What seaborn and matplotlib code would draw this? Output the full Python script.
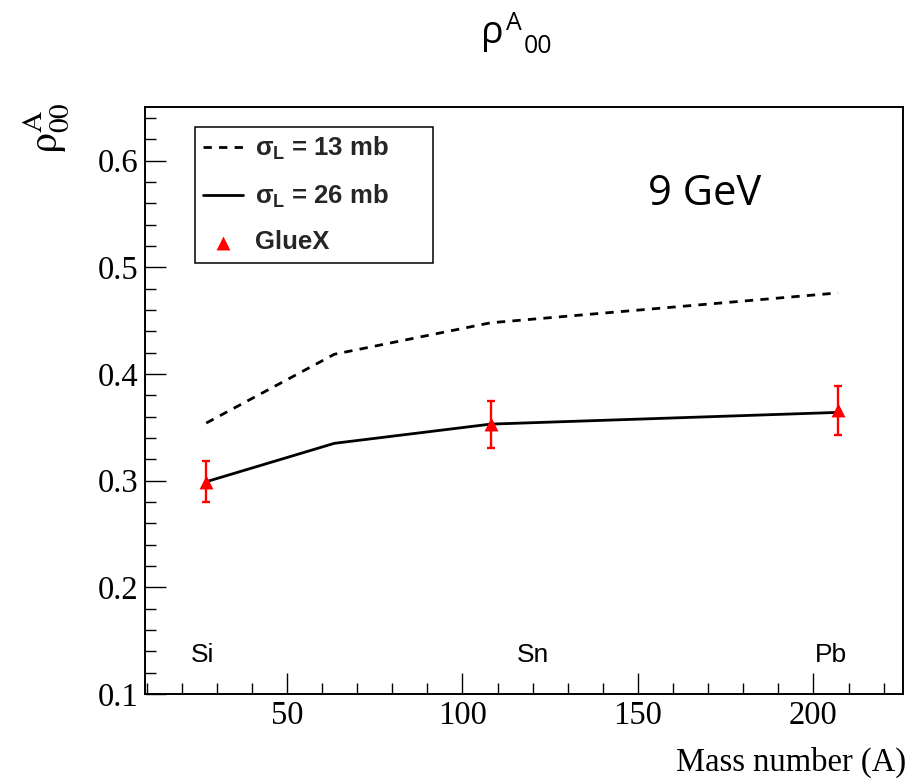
import numpy as np
import pandas as pd
import matplotlib
matplotlib.use('Agg')
import matplotlib.pyplot as plt
import seaborn as sns
from matplotlib.ticker import MultipleLocator

# ---- data ----
mass_model = [27, 63.5, 108, 207]
rho_13mb = [0.354, 0.4185, 0.448, 0.476]
rho_26mb = [0.299, 0.335, 0.353, 0.364]
mass_gluex = [27, 108, 207]
rho_gluex = [0.299, 0.353, 0.366]
err_gluex = [0.019, 0.022, 0.023]
nucleus_labels = ['Si', 'Sn', 'Pb']
nucleus_label_x = [26, 120, 205]
x_ticks = [50, 100, 150, 200]
x_tick_labels = ['50', '100', '150', '200']
y_ticks = [0.1, 0.2, 0.3, 0.4, 0.5, 0.6]
y_tick_labels = ['0.1', '0.2', '0.3', '0.4', '0.5', '0.6']

sns.set_theme(style='white')
plt.rcParams['font.family'] = ['Liberation Sans', 'DejaVu Sans']
plt.rcParams['mathtext.fontset'] = 'custom'
plt.rcParams['mathtext.rm'] = 'Liberation Sans:bold'
plt.rcParams['mathtext.it'] = 'Liberation Sans:bold'
plt.rcParams['mathtext.bf'] = 'Liberation Sans:bold'

fig = plt.figure(figsize=(9.14, 7.8), dpi=100)
ax = fig.add_axes([0.1583, 0.1103, 0.83, 0.7529])

sns.lineplot(x=mass_model, y=rho_13mb, ax=ax, color='black', lw=2.0,
             linestyle=(0, (3.0, 2.6)), label=r'$\sigma_{L}$ = 13 mb')
sns.lineplot(x=mass_model, y=rho_26mb, ax=ax, color='black', lw=2.0,
             label=r'$\sigma_{L}$ = 26 mb')
ax.errorbar(mass_gluex, rho_gluex, yerr=err_gluex, fmt='none', ecolor='red',
            elinewidth=1.7, capsize=2.6, capthick=1.7, zorder=4)
sns.scatterplot(x=mass_gluex, y=rho_gluex, ax=ax, marker='^', s=100, color='red',
                edgecolor='red', linewidth=0, label='GlueX', zorder=5)

ax.set_xlim(9.46, 225.6)
ax.set_ylim(0.1, 0.6506)
ax.set_xticks(x_ticks, labels=x_tick_labels)
ax.set_yticks(y_ticks, labels=y_tick_labels)
ax.xaxis.set_minor_locator(MultipleLocator(10))
ax.yaxis.set_minor_locator(MultipleLocator(0.02))
ax.tick_params(which='both', direction='in', top=False, right=False,
               bottom=True, left=True, color='black', width=1.0,
               labelsize=23.5, labelfontfamily='Liberation Serif', pad=4.5,
               labelcolor='black')
ax.tick_params(which='major', length=15)
ax.tick_params(which='minor', length=8)
for s in ax.spines.values():
    s.set_visible(True)
    s.set_color('black')
    s.set_linewidth(1.4)

ax.set_xlabel('Mass number (A)', fontfamily='Liberation Serif', fontsize=23.5,
              ha='right', color='black')
ax.xaxis.set_label_coords(1.0036, -0.0902)
ax.set_ylabel('')

for lab, xv in zip(nucleus_labels, nucleus_label_x):
    ax.text(xv, 0.130, lab, ha='center', va='baseline', fontsize=19,
            fontfamily='Liberation Sans', color='black')

h, l = ax.get_legend_handles_labels()
leg = ax.legend(h, l, loc='upper left', bbox_to_anchor=(0.0663, 0.732, 0.3134, 0.234),
                mode='expand', frameon=True, fancybox=False, shadow=False,
                prop={'family': 'Liberation Sans', 'weight': 'bold', 'size': 18.5},
                handlelength=1.55, handletextpad=0.45, borderpad=0.32,
                labelspacing=0.8, borderaxespad=0, edgecolor='black',
                scatterpoints=1, framealpha=1)
leg.get_frame().set_linewidth(1.1)

fig.text(0.709, 0.7372, '9 GeV', fontfamily='Open Sans', fontsize=30,
         va='baseline', color='black')

# title rho^A_00
fig.text(0.526, 0.9449, 'ρ', fontfamily='Open Sans', fontsize=27, va='baseline', color='black')
fig.text(0.5536, 0.9615, 'A', fontfamily='Open Sans', fontsize=18, va='baseline', color='black')
fig.text(0.5733, 0.932, '00', fontfamily='Open Sans', fontsize=18, va='baseline', color='black')

# y-axis label
fig.text(46 / 914, 1 - 102 / 780, r'$\mathrm{\rho}^{\mathrm{A}}_{\mathrm{00}}$',
         math_fontfamily='stix', fontsize=30, rotation=90, ha='center', va='top',
         color='black')

fig.savefig('out.png', dpi=100)
